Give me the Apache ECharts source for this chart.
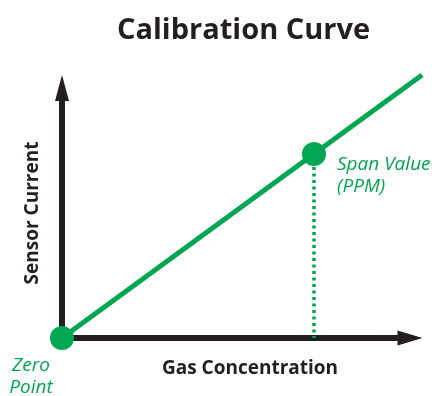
<!DOCTYPE html>
<html>
<head>
<meta charset="utf-8">
<script src="https://cdn.jsdelivr.net/npm/echarts@6/dist/echarts.min.js"></script>
<style>
  html, body { margin: 0; padding: 0; background: #ffffff; }
  #chart { width: 432px; height: 396px; }
</style>
</head>
<body>
<div id="chart"></div>
<script>
// Calibration curve: sensor current rises linearly with gas concentration.
const titleText = 'Calibration Curve';
const xAxisName = 'Gas Concentration';
const yAxisName = 'Sensor Current';

// Straight calibration line (arbitrary units, 0 = zero point)
const curveX = [0, 100];
const curveY = [0, 100];

// Calibration points
const pointNames = ['Zero\nPoint', 'Span Value\n(PPM)'];
const pointX = [0, 70];
const pointY = [0, 70];

const GREEN = '#00a651';
const INK = '#231f20';

const curveData = curveX.map((x, i) => [x, curveY[i]]);
const spanIdx = 1;
const dropData = [[pointX[spanIdx], pointY[spanIdx]], [pointX[spanIdx], 0]];

const labelStyles = [
  { position: 'bottom', distance: 5, offset: [-31, 0], align: 'center' },
  { position: 'right', distance: 11, offset: [0, 21.5], align: 'left' }
];
const pointData = pointX.map((x, i) => ({
  name: pointNames[i],
  value: [x, pointY[i]],
  label: Object.assign({
    show: true,
    formatter: '{b}',
    color: GREEN,
    fontFamily: 'Open Sans',
    fontStyle: 'italic',
    fontSize: 19,
    lineHeight: 22
  }, labelStyles[i])
}));

const chart = echarts.init(document.getElementById('chart'), null, { renderer: 'canvas' });

const hiddenParts = {
  splitLine: { show: false },
  axisTick: { show: false },
  axisLabel: { show: false }
};
const nameFont = { color: INK, fontFamily: 'Open Sans', fontWeight: 'bold', fontSize: 19 };
const arrowLine = (size) => ({
  show: true,
  symbol: ['none', 'triangle'],
  symbolSize: size,
  lineStyle: { color: INK, width: 6 }
});

chart.setOption({
  animation: false,
  backgroundColor: '#ffffff',
  title: {
    text: titleText,
    left: 117,
    top: 14,
    padding: 0,
    textStyle: { color: INK, fontFamily: 'Open Sans', fontWeight: 'bold', fontSize: 29, lineHeight: 34 }
  },
  // grid 0 carries the visible axes (lines end under the arrowheads),
  // grid 1 carries the data and reaches out to the arrow tips.
  grid: [
    { left: 62, right: 22, top: 88, bottom: 58 },
    { left: 62, right: 10, top: 75, bottom: 58 }
  ],
  xAxis: [
    Object.assign({
      type: 'value', gridIndex: 0, min: 0, max: 100,
      name: xAxisName, nameLocation: 'middle', nameGap: 21,
      nameTextStyle: Object.assign({ padding: [0, 0, 0, 28] }, nameFont),
      axisLine: arrowLine([15, 25])
    }, hiddenParts),
    Object.assign({
      type: 'value', gridIndex: 1, min: 0, max: 100,
      axisLine: { show: false }
    }, hiddenParts)
  ],
  yAxis: [
    Object.assign({
      type: 'value', gridIndex: 0, min: 0, max: 100,
      name: yAxisName, nameLocation: 'middle', nameGap: 20,
      nameTextStyle: nameFont,
      axisLine: arrowLine([14, 26])
    }, hiddenParts),
    Object.assign({
      type: 'value', gridIndex: 1, min: 0, max: 100,
      axisLine: { show: false }
    }, hiddenParts)
  ],
  series: [
    {
      type: 'line',
      xAxisIndex: 1, yAxisIndex: 1,
      data: curveData,
      showSymbol: false,
      lineStyle: { color: GREEN, width: 5 },
      z: 3
    },
    {
      type: 'line',
      xAxisIndex: 1, yAxisIndex: 1,
      data: dropData,
      showSymbol: false,
      lineStyle: { color: GREEN, width: 3.5, type: [3, 3.5] },
      z: 3
    },
    {
      type: 'scatter',
      xAxisIndex: 1, yAxisIndex: 1,
      data: pointData,
      symbol: 'circle',
      symbolSize: 24,
      itemStyle: { color: GREEN, opacity: 1 },
      clip: false,
      z: 4
    }
  ]
});
</script>
</body>
</html>
